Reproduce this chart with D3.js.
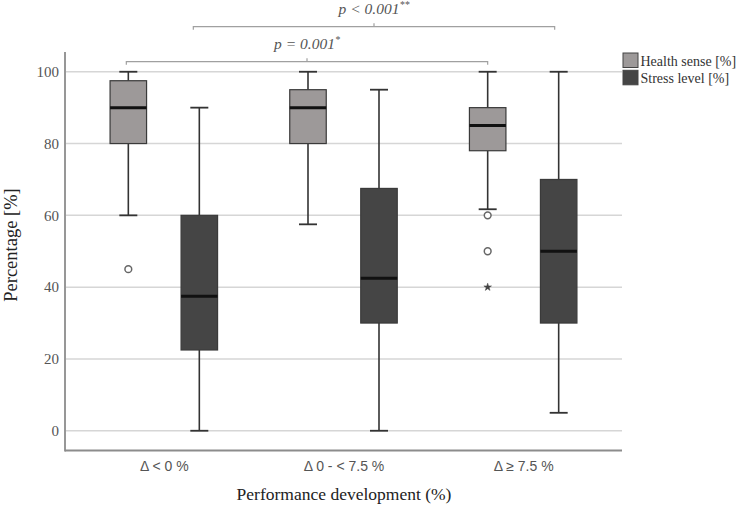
<!DOCTYPE html>
<html>
<head>
<meta charset="utf-8">
<script src="https://cdn.jsdelivr.net/npm/d3@7"></script>
<style>
  html, body { margin: 0; padding: 0; background: #fff; }
  svg { display: block; }
</style>
</head>
<body>
<svg id="chart" width="739" height="507"></svg>
<script>
// ---------------- data ----------------
const categories = ["Δ < 0 %", "Δ 0 - < 7.5 %", "Δ ≥ 7.5 %"];
const seriesNames = ["Health sense [%]", "Stress level [%]"];
const yTicks = [0, 20, 40, 60, 80, 100];

const healthMin    = [60, 57.5, 61.7];
const healthQ1     = [80, 80, 78];
const healthMedian = [90, 90, 85];
const healthQ3     = [97.5, 95, 90];
const healthMax    = [100, 100, 100];

const stressMin    = [0, 0, 5];
const stressQ1     = [22.5, 30, 30];
const stressMedian = [37.5, 42.5, 50];
const stressQ3     = [60, 67.5, 70];
const stressMax    = [90, 95, 100];

const outlierCategory = [0, 2, 2, 2];
const outlierSeries   = [0, 0, 0, 0];
const outlierValue    = [45, 60, 50, 40];
const outlierKind     = ["circle", "circle", "circle", "star"];

const pLabels = [
  { text: "p = 0.001", sup: "*",  from: 0, to: 2, series: 0 },
  { text: "p < 0.001", sup: "**", from: 0, to: 2, series: 1 }
];

// ---------------- layout ----------------
const svg = d3.select("#chart");
const plotLeft = 65, plotRight = 622, plotTop = 52, plotBottom = 450.5;
const serif = "'Liberation Serif', 'Times New Roman', serif";

const y = d3.scaleLinear().domain([-5.5, 105.5]).range([plotBottom, plotTop]);
const x = d3.scalePoint().domain(categories).range([plotLeft, plotRight]).padding(0.55);
const sub = d3.scalePoint().domain(seriesNames).range([-35.5, 35.5]);
const color = d3.scaleOrdinal().domain(seriesNames).range(["#9d9999", "#454545"]);
const boxW = 36.5, capW = 18;

// gridlines
svg.append("g").selectAll("line").data(yTicks).join("line")
  .attr("x1", plotLeft + 1).attr("x2", plotRight)
  .attr("y1", d => y(d)).attr("y2", d => y(d))
  .attr("stroke", "#d6d6d6").attr("stroke-width", 1.5);

// y axis labels
const yAxis = d3.axisLeft(y).tickValues(yTicks).tickSize(0).tickPadding(6);
const gy = svg.append("g").attr("transform", `translate(${plotLeft},0)`).call(yAxis);
gy.select(".domain").remove();
gy.selectAll("text").attr("font-family", serif)
  .attr("font-size", 15).attr("fill", "#555");

// x axis labels
const xAxis = d3.axisBottom(x).tickSize(0).tickPadding(11);
const gx = svg.append("g").attr("transform", `translate(0,${plotBottom})`).call(xAxis);
gx.select(".domain").remove();
gx.selectAll("text").attr("font-family", "'Liberation Sans', Arial, sans-serif")
  .attr("font-size", 14).attr("fill", "#555");

// axis lines
svg.append("line").attr("x1", plotLeft).attr("x2", plotLeft)
  .attr("y1", plotTop).attr("y2", plotBottom + 1)
  .attr("stroke", "#8c8c8c").attr("stroke-width", 1.8);
svg.append("line").attr("x1", plotLeft).attr("x2", plotRight)
  .attr("y1", plotBottom).attr("y2", plotBottom)
  .attr("stroke", "#8c8c8c").attr("stroke-width", 1.8);

// boxes
const stats = [];
categories.forEach((c, i) => {
  stats.push({ cat: c, s: seriesNames[0], min: healthMin[i], q1: healthQ1[i], med: healthMedian[i], q3: healthQ3[i], max: healthMax[i] });
  stats.push({ cat: c, s: seriesNames[1], min: stressMin[i], q1: stressQ1[i], med: stressMedian[i], q3: stressQ3[i], max: stressMax[i] });
});

const g = svg.append("g").selectAll("g").data(stats).join("g")
  .attr("transform", d => `translate(${x(d.cat) + sub(d.s)},0)`);

g.append("line").attr("x1", 0).attr("x2", 0)
  .attr("y1", d => y(d.max)).attr("y2", d => y(d.q3))
  .attr("stroke", "#333").attr("stroke-width", 1.6);
g.append("line").attr("x1", 0).attr("x2", 0)
  .attr("y1", d => y(d.q1)).attr("y2", d => y(d.min))
  .attr("stroke", "#333").attr("stroke-width", 1.6);
g.append("line").attr("x1", -capW / 2).attr("x2", capW / 2)
  .attr("y1", d => y(d.max)).attr("y2", d => y(d.max))
  .attr("stroke", "#333").attr("stroke-width", 1.8);
g.append("line").attr("x1", -capW / 2).attr("x2", capW / 2)
  .attr("y1", d => y(d.min)).attr("y2", d => y(d.min))
  .attr("stroke", "#333").attr("stroke-width", 1.8);
g.append("rect").attr("x", -boxW / 2).attr("width", boxW)
  .attr("y", d => y(d.q3)).attr("height", d => y(d.q1) - y(d.q3))
  .attr("fill", d => color(d.s)).attr("stroke", "#3a3a3a").attr("stroke-width", 1.2);
g.append("line").attr("x1", -boxW / 2).attr("x2", boxW / 2)
  .attr("y1", d => y(d.med)).attr("y2", d => y(d.med))
  .attr("stroke", "#111").attr("stroke-width", 3);

// outliers
const outliers = outlierValue.map((v, i) => ({
  cat: categories[outlierCategory[i]], s: seriesNames[outlierSeries[i]], v, kind: outlierKind[i]
}));
svg.append("g").selectAll("path").data(outliers).join("path")
  .attr("transform", d => `translate(${x(d.cat) + sub(d.s)},${y(d.v)})`)
  .attr("d", d => d.kind === "star"
      ? d3.symbol().type(d3.symbolStar).size(18)()
      : d3.symbol().type(d3.symbolCircle).size(36)())
  .attr("fill", d => d.kind === "star" ? "#444" : "#fff")
  .attr("stroke", d => d.kind === "star" ? "#444" : "#666")
  .attr("stroke-width", d => d.kind === "star" ? 0.5 : 1.5);

// significance brackets
const bracketY = [61.7, 26.7];
const bracketShift = [[-2, 0], [-6, -4]];
pLabels.forEach((p, i) => {
  const s = seriesNames[p.series];
  const x1 = x(categories[p.from]) + sub(s) + bracketShift[i][0];
  const x2 = x(categories[p.to]) + sub(s) + bracketShift[i][1];
  const by = bracketY[i];
  const mid = (x1 + x2) / 2;
  svg.append("path")
    .attr("d", `M${x1},${by + 3}V${by}H${x2}V${by + 3}M${mid},${by}V${by - 3.5}`)
    .attr("fill", "none").attr("stroke", "#a0a0a0").attr("stroke-width", 1.2);
  const t = svg.append("text").attr("x", mid).attr("y", by - 13)
    .attr("text-anchor", "middle")
    .attr("font-family", serif)
    .attr("font-style", "italic").attr("font-size", 15.5).attr("fill", "#555");
  t.append("tspan").text(p.text);
  t.append("tspan").attr("dy", -6).attr("font-size", 10).text(p.sup);
});

// axis titles
svg.append("text").attr("transform", "translate(17,245) rotate(-90)")
  .attr("text-anchor", "middle")
  .attr("font-family", serif)
  .attr("font-size", 18.5).attr("fill", "#222").text("Percentage [%]");
svg.append("text").attr("x", 344).attr("y", 500)
  .attr("text-anchor", "middle")
  .attr("font-family", serif)
  .attr("font-size", 17.5).attr("fill", "#222").text("Performance development (%)");

// legend
const leg = svg.append("g").selectAll("g").data(seriesNames).join("g")
  .attr("transform", (d, i) => `translate(623,${53 + i * 17.3})`);
leg.append("rect").attr("width", 15).attr("height", 14.5)
  .attr("fill", d => color(d)).attr("stroke", "#444").attr("stroke-width", 1);
leg.append("text").attr("x", 17.5).attr("y", 12.5)
  .attr("font-family", serif)
  .attr("font-size", 14).attr("fill", "#333").text(d => d);
</script>
</body>
</html>
